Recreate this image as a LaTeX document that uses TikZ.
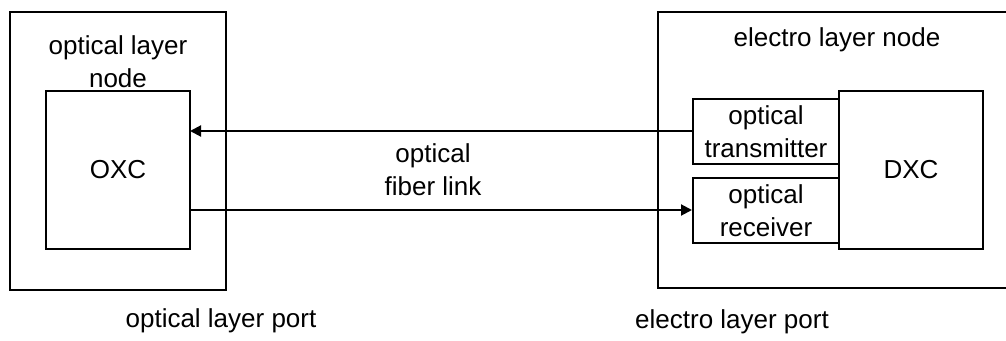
\documentclass[tikz,border=0pt]{standalone}
\usepackage{fontspec}
\setmainfont{Liberation Sans}
\usetikzlibrary{arrows.meta}
\begin{document}
\begin{tikzpicture}[x=1pt,y=-1pt,
  box/.style={draw,line width=2pt},
  lbl/.style={font=\fontsize{26}{33}\selectfont,align=center,inner sep=0pt},
  link/.style={line width=2pt,-{Triangle[length=11pt,width=11pt]}}]
\useasboundingbox (0,0) rectangle (1006,340);
\fill[white] (0,0) rectangle (1006,340);
% left node
\draw[box] (10,12) rectangle (226,290);
\node[box,minimum width=144pt,minimum height=158pt,inner sep=0pt] (oxc) at (118,170) {};
\node[lbl] at (oxc) {OXC};
\node[lbl] (oln) at (118,62) {optical layer\\node};
% right node
\draw[box] (658,12) rectangle (1010,288);
\node[box,minimum width=144pt,minimum height=158pt,inner sep=0pt] (dxc) at (911,170) {};
\node[lbl] at (dxc) {DXC};
\node[box,minimum width=146pt,minimum height=65pt,inner sep=0pt] (tx) at (766,131.5) {};
\node[lbl] at (tx) {optical\\transmitter};
\node[box,minimum width=146pt,minimum height=65pt,inner sep=0pt] (rx) at (766,210.5) {};
\node[lbl] at (rx) {optical\\receiver};
\node[lbl] (eln) at (837,40) {electro layer node};
% links
\coordinate (oxcin) at (190,131);
\coordinate (oxcout) at (190,210);
\draw[link] (tx.west |- oxcin) -- (oxcin);
\draw[link] (oxcout) -- (rx.west |- oxcout);
\node[lbl] (fib) at (433,170) {optical\\fiber link};
% ports
\node[lbl] (olp) at (221,321) {optical layer port};
\node[lbl] (elp) at (732,322) {electro layer port};
\end{tikzpicture}
\end{document}
